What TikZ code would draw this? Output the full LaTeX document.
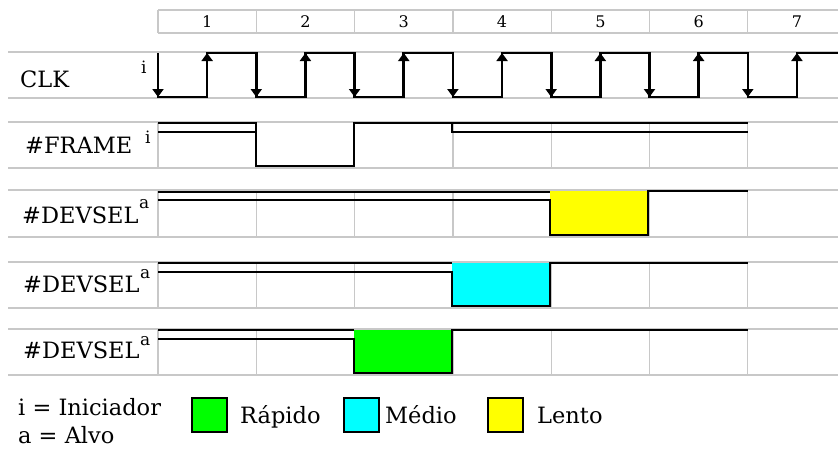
\documentclass[tikz,border=0pt]{standalone}
\usepackage{fontspec}
\setmainfont{DejaVu Serif}
\usetikzlibrary{arrows.meta}
\definecolor{gridgray}{RGB}{200,200,200}
\definecolor{fastgreen}{RGB}{0,255,0}
\definecolor{midcyan}{RGB}{0,255,255}
\definecolor{slowyellow}{RGB}{255,255,0}
\begin{document}
\begin{tikzpicture}[x=1pt,y=-1pt,
  grid/.style={draw=gridgray,line width=1.2pt},
  sig/.style={draw=black,line width=2.6pt,line join=miter},
  clkedge/.style={draw=black,line width=2.6pt,-{Triangle[width=11pt,length=8pt]}},
  lbl/.style={anchor=base west,inner sep=0pt,font=\fontsize{22.5}{26}\selectfont},
  sup/.style={anchor=base west,inner sep=0pt,font=\fontsize{17}{20}\selectfont},
  num/.style={inner sep=0pt,font=\fontsize{16}{18}\selectfont},
  key/.style={draw=black,line width=2.6pt}]
\useasboundingbox (0,0) rectangle (838,448);
\fill[white] (0,0) rectangle (838,448);

% cycle numbers
\draw[grid] (158,10) -- (838,10) (158,33) -- (838,33);
\foreach \k in {0,...,6} \draw[grid] ({158+98.3*\k},10) -- ({158+98.3*\k},33);
\foreach \k in {1,...,7} \node[num] (n\k) at ({158+98.3*(\k-0.5)},21.5) {\k};

% row bands
\draw[grid] (8,52) -- (838,52) (8,98) -- (838,98);
\foreach \t/\b in {122/168,190/237,262/308,329/375} {
  \draw[grid] (8,\t) -- (838,\t) (8,\b) -- (838,\b);
  \foreach \k in {0,...,6} \draw[grid] ({158+98.3*\k},\t) -- ({158+98.3*\k},\b);
}

% clock
\draw[sig] (158,53) \foreach \k in {0,...,6} {
  -- ({158+98.3*\k},53) -- ({158+98.3*\k},97)
  -- ({207.15+98.3*\k},97) -- ({207.15+98.3*\k},53) } -- (838,53);
\foreach \k in {0,...,6} {
  \draw[clkedge] ({158+98.3*\k},60) -- ({158+98.3*\k},97);
  \draw[clkedge] ({207.15+98.3*\k},90) -- ({207.15+98.3*\k},53);
}

% #FRAME
\draw[sig] (158,132) -- (256,132);
\draw[sig] (158,123) -- (256,123) -- (256,166) -- (354,166) -- (354,123) -- (748,123);
\draw[sig] (452,123) -- (452,132) -- (748,132);

% #DEVSEL, slow
\fill[slowyellow] (550,191) rectangle (648,235);
\draw[sig] (158,192) -- (550,192);
\draw[sig] (158,200) -- (550,200) -- (550,235) -- (648,235) -- (648,191) -- (748,191);

% #DEVSEL, medium
\fill[midcyan] (452,263) rectangle (550,306);
\draw[sig] (158,263) -- (452,263);
\draw[sig] (158,272) -- (452,272) -- (452,306) -- (550,306) -- (550,263) -- (748,263);

% #DEVSEL, fast
\fill[fastgreen] (354,330) rectangle (452,373);
\draw[sig] (158,330) -- (354,330);
\draw[sig] (158,339) -- (354,339) -- (354,373) -- (452,373) -- (452,330) -- (748,330);

% signal names
\node[lbl] (clk) at (20,87) {CLK};
\node[sup] (clki) at (141,73) {i};
\node[lbl] (frame) at (25,153) {\#FRAME};
\node[sup] (framei) at (145,143) {i};
\node[lbl] (dev1) at (22,223) {\#DEVSEL};
\node[sup] (dev1a) at (139,208) {a};
\node[lbl] (dev2) at (23,292) {\#DEVSEL};
\node[sup] (dev2a) at (140,278) {a};
\node[lbl] (dev3) at (23,358) {\#DEVSEL};
\node[sup] (dev3a) at (140,345) {a};

% legend
\node[lbl] (li) at (18,415) {i = Iniciador};
\node[lbl] (la) at (18,443) {a = Alvo};
\draw[key,fill=fastgreen] (192,398) rectangle (227,432);
\node[lbl] (lr) at (240,423) {Rápido};
\draw[key,fill=midcyan] (344,398) rectangle (379,432);
\node[lbl] (lm) at (385,423) {Médio};
\draw[key,fill=slowyellow] (488,398) rectangle (523,432);
\node[lbl] (ll) at (537,423) {Lento};
\end{tikzpicture}
\end{document}
